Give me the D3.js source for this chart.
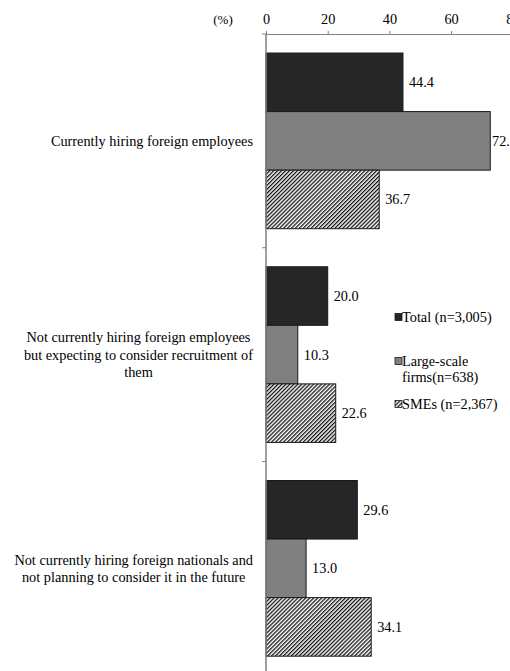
<!DOCTYPE html>
<html><head><meta charset="utf-8">
<script src="https://cdn.jsdelivr.net/npm/d3@7"></script>
<style>
html,body{margin:0;padding:0;background:#fff;overflow:hidden}
text{font-family:"Liberation Serif","Times New Roman",serif;fill:#000}
</style></head>
<body>
<svg id="chart" width="510" height="671"></svg>
<script>
const categories = [
  ["Currently hiring foreign employees"],
  ["Not currently hiring foreign employees", "but expecting to consider recruitment of", "them"],
  ["Not currently hiring foreign nationals and", "not planning to consider it in the future"]
];
const seriesNames = ["Total (n=3,005)", "Large-scale firms(n=638)", "SMEs (n=2,367)"];
const legendLines = [["Total (n=3,005)"], ["Large-scale", "firms(n=638)"], ["SMEs (n=2,367)"]];
const totalValues = [44.4, 20.0, 29.6];
const largeValues = [72.7, 10.3, 13.0];
const smeValues = [36.7, 22.6, 34.1];
const xTicks = [0, 20, 40, 60, 80];

const svg = d3.select("#chart");
const defs = svg.append("defs");
const P = 2.8;
const pat = defs.append("pattern").attr("id","hatch").attr("patternUnits","userSpaceOnUse")
  .attr("width",P).attr("height",P).attr("patternTransform","rotate(45)");
pat.append("rect").attr("width",P).attr("height",P).attr("fill","#fff");
pat.append("line").attr("x1",0).attr("y1",0).attr("x2",0).attr("y2",P).attr("stroke","#111").attr("stroke-width",2.6);

const fills = ["#262626", "#808080", "url(#hatch)"];
const series = [totalValues, largeValues, smeValues];

const x = d3.scaleLinear().domain([0,80]).range([266, 512.8]);
const y0 = d3.scaleBand().domain(d3.range(categories.length)).range([34, 675.2]).paddingInner(0.178).paddingOuter(0.089);
const y1 = d3.scaleBand().domain(d3.range(series.length)).range([0, y0.bandwidth()]);

const FS = 14.3;
// bars
categories.forEach((c, i) => {
  series.forEach((s, j) => {
    const v = s[i];
    const yy = y0(i) + y1(j);
    svg.append("rect").attr("x", x(0)).attr("y", yy).attr("width", x(v)-x(0)).attr("height", y1.bandwidth())
      .attr("fill", fills[j]).attr("stroke", "#1a1a1a").attr("stroke-width", 1);
    svg.append("text").attr("x", Math.min(x(v)+6, 492)).attr("y", yy + y1.bandwidth()/2).attr("dy","0.35em")
      .attr("font-size", FS).text(v.toFixed(1));
  });
});

// top axis
const ax = svg.append("g").attr("transform","translate(0,34)")
  .call(d3.axisTop(x).tickValues(xTicks).tickSize(3).tickPadding(7).tickFormat(d3.format("d")));
ax.select(".domain").attr("stroke","#808080");
ax.selectAll(".tick line").attr("stroke","#808080");
ax.selectAll(".tick text").attr("font-size",FS).attr("font-family","Liberation Serif");
svg.append("text").attr("x",223).attr("y",24).attr("text-anchor","middle").attr("font-size",13).text("(%)");

// vertical axis
const step = y0.step();
svg.append("line").attr("x1",x(0)).attr("x2",x(0)).attr("y1",34).attr("y2",675.2).attr("stroke","#808080").attr("stroke-width",1.5);
d3.range(categories.length+1).forEach(k => {
  const ty = y0.range()[0] + k*step;
  svg.append("line").attr("x1",x(0)-4).attr("x2",x(0)).attr("y1",ty).attr("y2",ty).attr("stroke","#808080");
});

// category labels
const lineH = 17.5;
categories.forEach((lines, i) => {
  const cy = y0(i) + y0.bandwidth()/2;
  const g = svg.append("g");
  const t = g.append("text").attr("font-size",FS).attr("text-anchor","middle");
  lines.forEach((l, k) => {
    t.append("tspan").attr("x",0).attr("y", cy + (k - (lines.length-1)/2)*lineH).attr("dy","0.35em").text(l);
  });
  let maxW = 0;
  t.selectAll("tspan").each(function(){ maxW = Math.max(maxW, this.getComputedTextLength()); });
  g.attr("transform", `translate(${253 - maxW/2},0)`);
});

// legend
const legY = [317, 361, 404];
legendLines.forEach((lines, j) => {
  svg.append("rect").attr("x",395).attr("y",legY[j]-3.5).attr("width",7).attr("height",7)
    .attr("fill",fills[j]).attr("stroke","#1a1a1a").attr("stroke-width",0.8);
  const t = svg.append("text").attr("font-size",FS);
  lines.forEach((l,k)=>{
    t.append("tspan").attr("x",402).attr("y",legY[j]+k*16).attr("dy","0.35em").text(l);
  });
});
</script>
</body></html>
